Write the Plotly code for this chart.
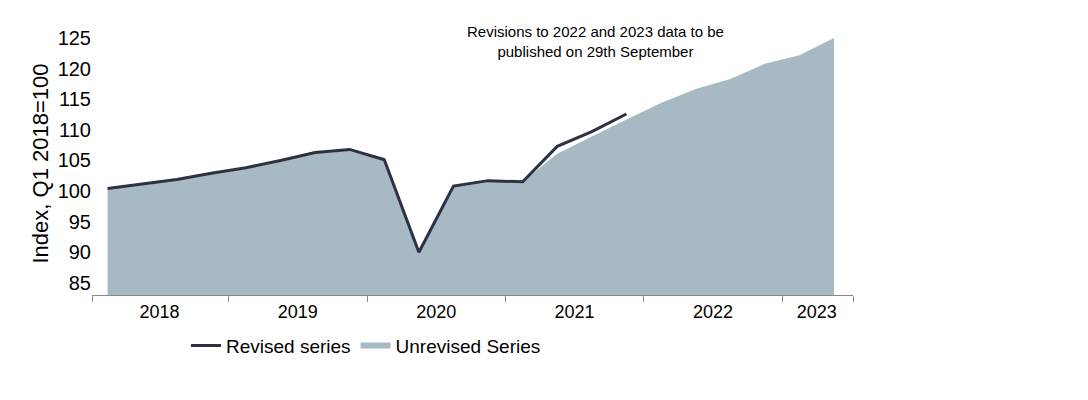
import plotly.graph_objects as go

quarters = list(range(22))  # Q1 2018 .. Q2 2023
revised = [100.4, 101.2, 101.9, 102.9, 103.8, 105.0, 106.3, 106.8, 105.1, 90.0, 100.8,
           101.7, 101.5, 107.3, 109.7, 112.6]
unrevised = [100.4, 101.2, 101.9, 102.9, 103.8, 105.0, 106.3, 106.9, 105.5, 90.0, 100.8,
             101.7, 101.5, 106.1, 108.9, 111.7, 114.4, 116.7, 118.3, 120.8, 122.2, 125.0]
years = ["2018", "2019", "2020", "2021", "2022", "2023"]
year_centers = [1.5, 5.5, 9.5, 13.5, 17.5, 20.5]
year_bounds = [-0.45, 3.5, 7.5, 11.5, 15.5, 19.5, 21.55]

fig = go.Figure()
fig.add_trace(go.Scatter(x=quarters, y=unrevised, name="Unrevised Series", fill="tozeroy",
                         mode="none", fillcolor="#a7bac3"))
fig.add_trace(go.Scatter(x=quarters[:len(revised)], y=revised, name="Revised series",
                         mode="lines", line=dict(color="#2e3145", width=3)))

fig.add_annotation(x=14.1, y=124.5, xref="x", yref="y",
                   text="Revisions to 2022 and 2023 data to be<br>published on 29th September",
                   showarrow=False, font=dict(size=15, color="#000"))

fig.update_layout(
    width=1088, height=400, plot_bgcolor="white", paper_bgcolor="white",
    font=dict(family="Liberation Sans, Arial", size=18, color="#000"),
    margin=dict(l=84, r=243, t=24, b=113),
    showlegend=True,
    legend=dict(orientation="h", x=0.36, xanchor="center", y=-0.12, yanchor="top",
                traceorder="reversed", font=dict(size=19), itemwidth=30),
    xaxis=dict(range=[-0.45, 21.55], tickvals=year_centers, ticktext=years, ticks="",
               showgrid=False, showline=True, linecolor="#888", zeroline=False,
               minor=dict(tickvals=year_bounds, ticks="outside", ticklen=6, tickcolor="#888")),
    yaxis=dict(range=[83, 126], tickvals=list(range(85, 126, 5)), showgrid=False,
               tickfont=dict(size=20), zeroline=False, showline=False,
               title=dict(text="Index, Q1 2018=100", standoff=2)),
)
fig.write_html("out.html")
